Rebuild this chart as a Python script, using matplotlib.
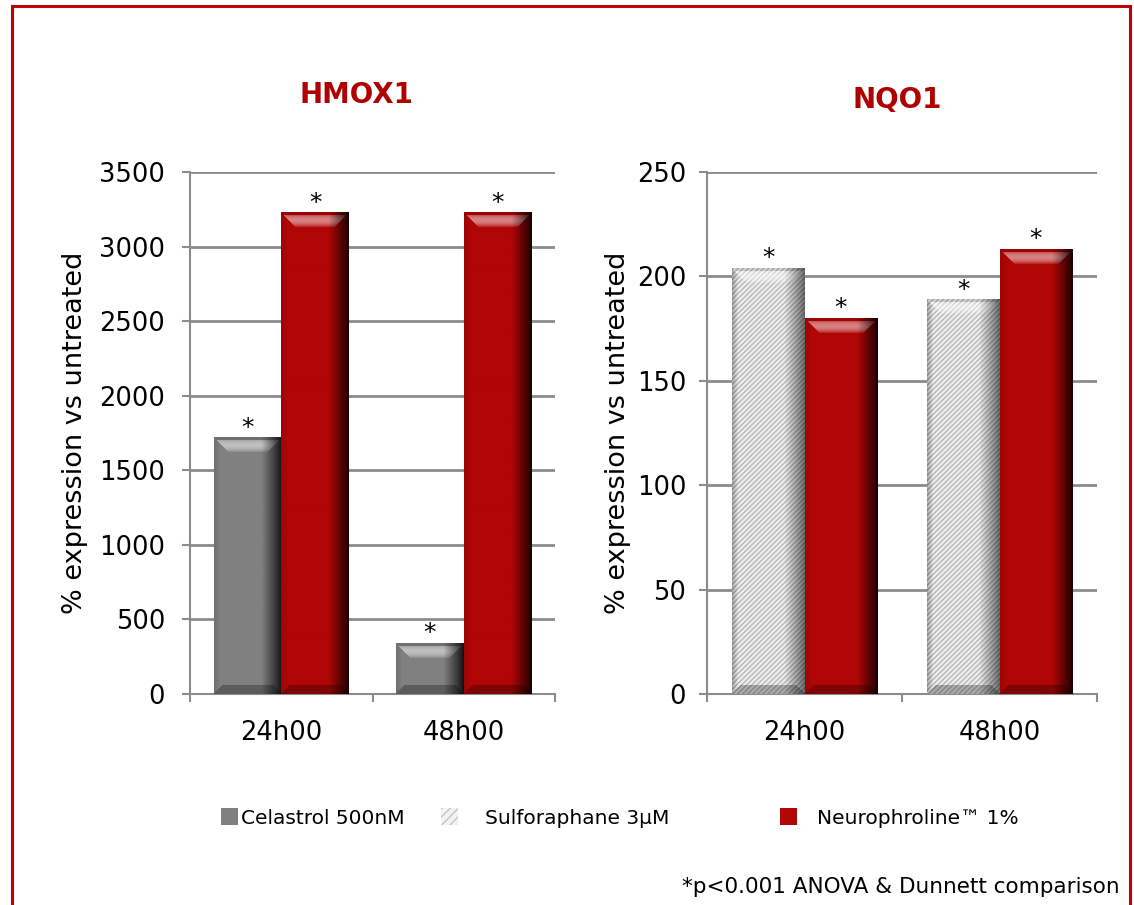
import numpy as np
import matplotlib
matplotlib.use("Agg")
import matplotlib.pyplot as plt
from matplotlib.patches import Patch, Rectangle

# ---------------- data ----------------
categories = ["24h00", "48h00"]
hmox1_celastrol = [1717, 341]
hmox1_neurophroline = [3226, 3226]
nqo1_sulforaphane = [204, 189]
nqo1_neurophroline = [180, 213]

hmox1_ticks = [0, 500, 1000, 1500, 2000, 2500, 3000, 3500]
nqo1_ticks = [0, 50, 100, 150, 200, 250]

legend_labels = ["Celastrol 500nM", "Sulforaphane 3\u00b5M", "Neurophroline\u2122 1%"]
footnote = "*p<0.001 ANOVA & Dunnett comparison"

# ---------------- style ----------------
RED = np.array([176, 6, 6]) / 255
GRAY = np.array([128, 128, 128]) / 255
LIGHT = np.array([238, 238, 238]) / 255
TITLE_RED = "#B00000"
GRID = "#8c8c8c"

plt.rcParams["font.family"] = ["DejaVu Sans"]

W_PX, H_PX = 1134, 905
fig = plt.figure(figsize=(W_PX / 100, H_PX / 100), dpi=100)


def fx(px):
    return px / W_PX


def fy(py):
    return 1 - py / H_PX


ax1 = fig.add_axes([fx(190), fy(694), fx(555) - fx(190), fy(172) - fy(694)])
ax2 = fig.add_axes([fx(707), fy(694), fx(1097) - fx(707), fy(172) - fy(694)])


def shade_bar(ax, rect, base, hatch=False):
    x0, y0 = rect.get_x(), rect.get_y()
    w, h = rect.get_width(), rect.get_height()
    p0 = ax.transData.transform((x0, y0))
    p1 = ax.transData.transform((x0 + w, y0 + h))
    W = max(int(round(p1[0] - p0[0])), 4)
    H = max(int(round(p1[1] - p0[1])), 4)
    xs = np.arange(W)[None, :].astype(float)
    rows = np.arange(H)[:, None].astype(float)
    img = np.ones((H, W, 3)) * base[None, None, :]
    if hatch:
        stripe = ((xs + rows) % 5) < 1.5
        img = np.where(stripe[..., None], img * 0.78, img)
    dl = xs + 0 * rows
    dr = (W - 1 - xs) + 0 * rows
    dt = rows + 0 * xs
    db = (H - 1 - rows) + 0 * xs
    b = min(15, H // 2, W // 2)
    # top bevel (trapezoid) highlight
    top = (dt < b) & (dt <= dl) & (dt <= dr)
    t = np.clip(dt / max(b, 1), 0, 1)
    hl = np.sin(np.pi * t) ** 0.8 * 0.5
    hl = np.where(dt < 3, -0.12, hl)
    light = np.where(hl[..., None] > 0,
                     img + (1 - img) * hl[..., None],
                     img * (1 + hl[..., None]))
    img = np.where(top[..., None], light, img)
    # bottom bevel darker
    bb = min(9, H // 3)
    bot = (db < bb) & (db <= dl) & (db <= dr)
    img = np.where(bot[..., None], img * 0.72, img)
    # left edge
    lb = 6
    left = (dl < lb) & (dl < dt) & (dl < db)
    lf = 0.72 if hatch else 0.88
    img = np.where(left[..., None], img * (lf + (1 - lf) * dl[..., None] / lb), img)
    # right edge gradient
    g = 20.0
    fmin = 0.45 if hatch else 0.15
    fr = np.where(dr < g, fmin + (1 - fmin) * (dr / g) ** 0.9, 1.0)
    img = img * fr[..., None]
    img = np.clip(img, 0, 1)
    ax.imshow(img, extent=(x0, x0 + w, y0, y0 + h), origin="upper",
              aspect="auto", interpolation="bilinear", zorder=3)


def setup_axes(ax, ymax, ticks, ypad, label_x):
    ax.set_xlim(-0.5, 1.5)
    ax.set_ylim(0, ymax)
    ax.set_yticks(ticks)
    ax.set_yticklabels([str(v) for v in ticks])
    ax.set_xticks(range(len(categories)))
    ax.set_xticklabels(categories)
    ax.set_xticks([-0.5, 0.5, 1.5], minor=True)
    ax.tick_params(axis="x", which="major", length=0, pad=19, labelsize=18.5)
    ax.tick_params(axis="x", which="minor", length=6, width=1.5,
                   color=GRID, direction="out")
    ax.tick_params(axis="y", which="major", length=6, width=1.5,
                   color=GRID, direction="out", pad=ypad, labelsize=18.5)
    for s in ["top", "right"]:
        ax.spines[s].set_visible(False)
    for s in ["left", "bottom"]:
        ax.spines[s].set_color(GRID)
        ax.spines[s].set_linewidth(1.5)
    ax.yaxis.grid(True, color=GRID, linewidth=2)
    ax.set_axisbelow(True)
    ax.set_ylabel("% expression vs untreated", fontsize=19.5)
    ax.yaxis.set_label_coords(label_x, 0.5)


def draw_chart(ax, s1, s1_base, s1_hatch, s2, ymax, ticks, ypad, label_x):
    setup_axes(ax, ymax, ticks, ypad, label_x)
    x = np.arange(len(categories))
    width = 0.37
    b1 = ax.bar(x - width / 2, s1, width, color=s1_base, zorder=2, linewidth=0)
    b2 = ax.bar(x + width / 2, s2, width, color=RED, zorder=2, linewidth=0)
    for r in b1:
        shade_bar(ax, r, s1_base, hatch=s1_hatch)
    for r in b2:
        shade_bar(ax, r, RED)
    for bars, vals in ((b1, s1), (b2, s2)):
        for r, v in zip(bars, vals):
            ax.annotate("*", (r.get_x() + r.get_width() / 2, v),
                        xytext=(0, 2), textcoords="offset points",
                        ha="center", va="baseline", fontsize=18)
    ax.set_xlim(-0.5, 1.5)
    ax.set_ylim(0, ymax)


draw_chart(ax1, hmox1_celastrol, GRAY, False, hmox1_neurophroline,
           3500, hmox1_ticks, 12, -0.28)
draw_chart(ax2, nqo1_sulforaphane, LIGHT, True, nqo1_neurophroline,
           250, nqo1_ticks, 9, -0.195)

# titles
fig.text(fx(356), fy(95), "HMOX1", ha="center", va="center",
         fontsize=20, fontweight="bold", color=TITLE_RED)
fig.text(fx(897), fy(100), "NQO1", ha="center", va="center",
         fontsize=20, fontweight="bold", color=TITLE_RED)

# legend (three entries placed like the reference)
plt.rcParams["hatch.color"] = "#c4c4c4"
handles = [
    Patch(facecolor=GRAY, edgecolor="none"),
    Patch(facecolor="#f2f2f2", edgecolor="#c4c4c4", hatch="////", linewidth=0),
    Patch(facecolor=RED, edgecolor="none"),
]
legend_x = [221, 441, 780]
text_pad = [0.15, 1.35, 1.0]
for hnd, lab, lx, tp in zip(handles, legend_labels, legend_x, text_pad):
    fig.legend(handles=[hnd], labels=[lab], loc="center left",
               bbox_to_anchor=(fx(lx), fy(818)), frameon=False,
               borderpad=0, borderaxespad=0, handlelength=0.85,
               handleheight=0.85, handletextpad=tp, fontsize=14.5)

# footnote
fig.text(fx(1120), fy(887), footnote, ha="right", va="center", fontsize=15.5)

# red frame
fig.add_artist(Rectangle((fx(12), -0.05), fx(1130) - fx(12), fy(6) + 0.05,
                         transform=fig.transFigure, fill=False,
                         edgecolor="#C00000", linewidth=2.2, zorder=10))

fig.savefig("out.png", dpi=100)
